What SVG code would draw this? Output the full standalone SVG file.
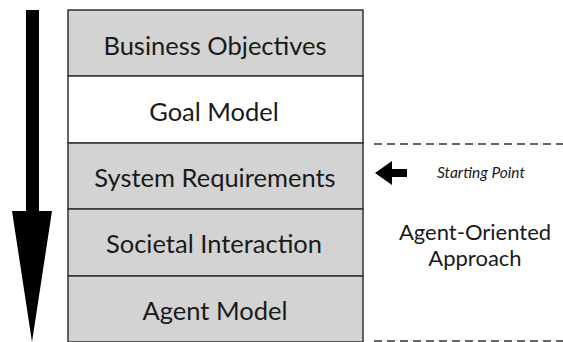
<svg xmlns="http://www.w3.org/2000/svg" width="563" height="342" viewBox="0 0 563 342">
  <style>
    .box { stroke: #333; stroke-width: 1.5; }
    .grey { fill: #d3d3d3; }
    .white { fill: #ffffff; }
    .lbl { font-family: Lato, "Liberation Sans", sans-serif; font-size: 25.5px; fill: #1a1a1a; text-anchor: middle; }
    .note { font-family: Lato, "Liberation Sans", sans-serif; font-size: 22px; fill: #1a1a1a; text-anchor: middle; }
    .dash { stroke: #333; stroke-width: 1.5; stroke-dasharray: 8 5; fill: none; }
  </style>
  <rect width="563" height="342" fill="#ffffff"/>

  <!-- layered stack -->
  <g id="business-objectives">
    <rect class="box grey" x="68" y="10" width="295" height="66"/>
    <text class="lbl" x="215" y="55">Business Objectives</text>
  </g>
  <g id="goal-model">
    <rect class="box white" x="68" y="76" width="295" height="67"/>
    <text class="lbl" x="214" y="121">Goal Model</text>
  </g>
  <g id="system-requirements">
    <rect class="box grey" x="68" y="143" width="295" height="66"/>
    <text class="lbl" x="215" y="187">System Requirements</text>
  </g>
  <g id="societal-interaction">
    <rect class="box grey" x="68" y="209" width="295" height="67"/>
    <text class="lbl" x="214" y="253">Societal Interaction</text>
  </g>
  <g id="agent-model">
    <rect class="box grey" x="68" y="276" width="295" height="66"/>
    <text class="lbl" x="215" y="320">Agent Model</text>
  </g>

  <g id="connectors">
    <!-- big downward flow arrow -->
    <polygon points="26,10 39,10 39,211 52,211 32,342 12,211 26,211" fill="#000"/>
    <!-- starting point pointer -->
    <polygon points="375,173 392,161 392,169 407,169 407,177 392,177 392,185" fill="#000"/>
    <!-- scope markers -->
    <line class="dash" x1="374" y1="144" x2="563" y2="144"/>
    <line class="dash" x1="374" y1="341" x2="563" y2="341"/>
  </g>

  <g id="annotations">
    <text x="481" y="178" font-family="Lato, 'Liberation Sans', sans-serif" font-style="italic" font-size="15.5" fill="#1a1a1a" text-anchor="middle">Starting Point</text>
    <text class="note" x="475" y="240">Agent-Oriented</text>
    <text class="note" x="475" y="266">Approach</text>
  </g>
</svg>
